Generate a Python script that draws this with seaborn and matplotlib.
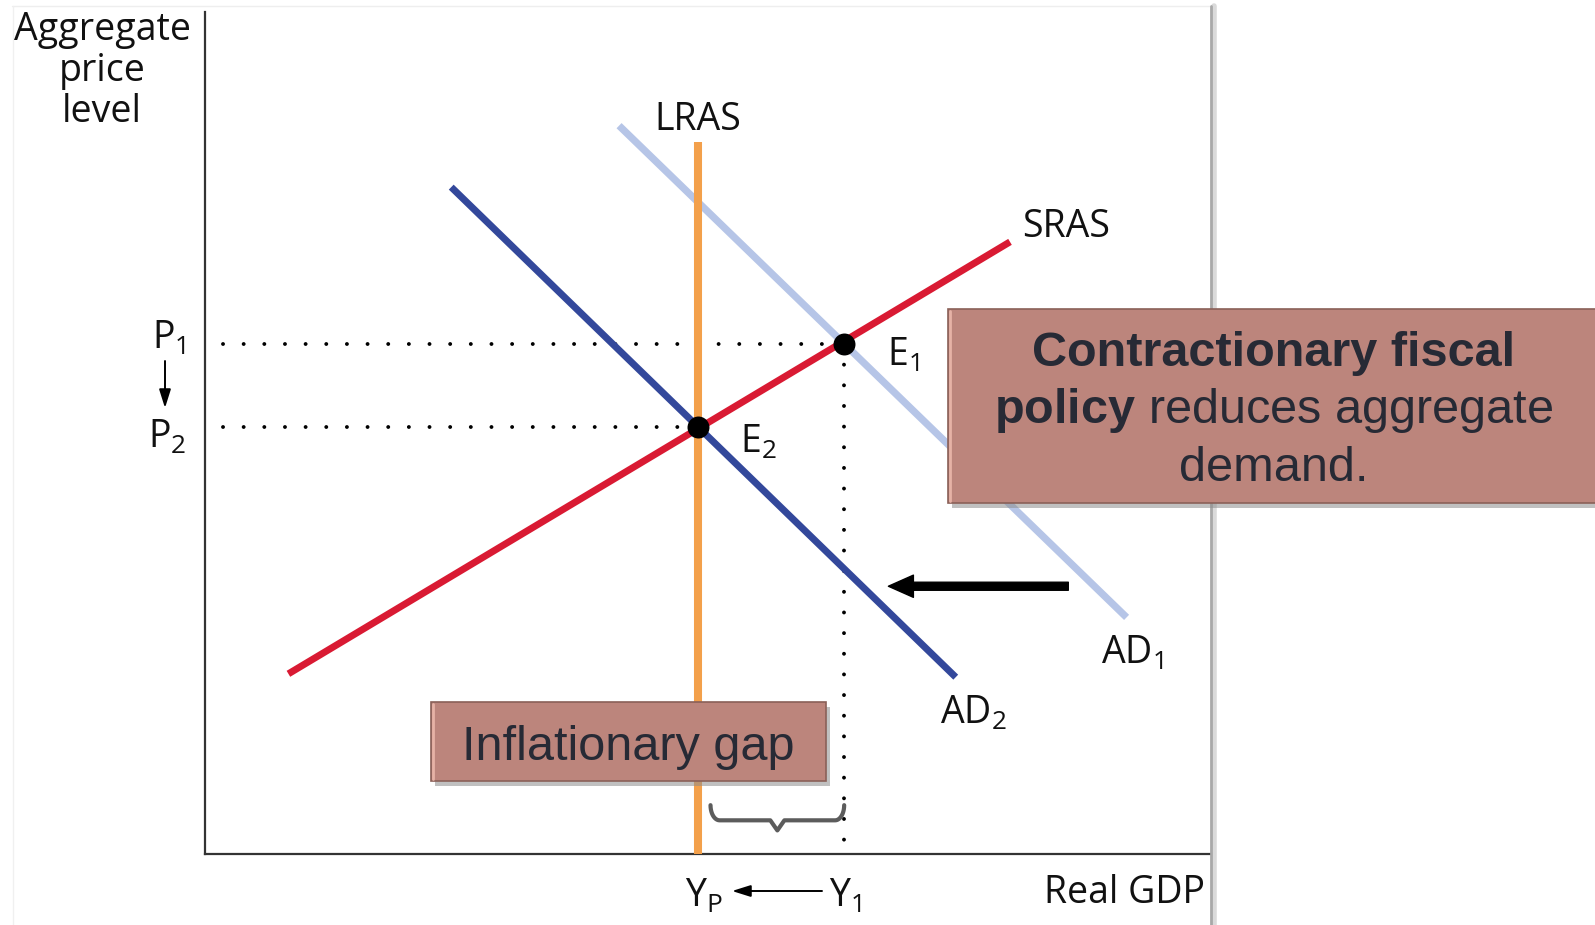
import numpy as np
import pandas as pd
import seaborn as sns
import matplotlib.pyplot as plt
from matplotlib.patches import Rectangle
from matplotlib.lines import Line2D

W, H = 1595, 925

# curve end points (x = real GDP, y = aggregate price level, arbitrary units 0-100)
sras_x = [8.3, 80.1]
sras_y = [21.4, 72.7]
ad1_x = [41.2, 91.7]
ad1_y = [86.5, 28.1]
ad2_x = [24.5, 74.7]
ad2_y = [79.2, 21.0]
lras_x = [49.1, 49.1]
lras_y = [0.0, 84.6]

# equilibria E1 (before) and E2 (after)
eq_x = [63.6, 49.1]
eq_y = [60.6, 50.7]

# leftward shift of AD
shift_from = 85.9
shift_to = 68.0
shift_y = 31.8

curves = {
    "AD1": (ad1_x, ad1_y, "#b6c5e7", 5.2),
    "LRAS": (lras_x, lras_y, "#f3a04b", 5.8),
    "AD2": (ad2_x, ad2_y, "#33489b", 5.0),
    "SRAS": (sras_x, sras_y, "#d91a33", 5.0),
}


def fx(px):
    return px / W


def fy(py):
    return 1 - py / H


def brace(x0, x1, ytop, ybot, ytip, r=0.9):
    t = np.linspace(0, np.pi / 2, 12)
    xm = (x0 + x1) / 2
    lx = x0 + r * (1 - np.cos(t))
    ly = ytop - (ytop - ybot) * np.sin(t)
    rx = x1 - r * (1 - np.cos(t))
    xs = np.concatenate([lx, [xm - 0.7, xm, xm + 0.7], rx[::-1]])
    ys = np.concatenate([ly, [ybot, ytip, ybot], ly[::-1]])
    return xs, ys


def main():
    sns.set_theme(style="white")
    plt.rcParams['font.family'] = ['Open Sans', 'DejaVu Sans']
    plt.rcParams['mathtext.fontset'] = 'custom'
    plt.rcParams['mathtext.rm'] = 'Liberation Sans'
    plt.rcParams['mathtext.bf'] = 'Liberation Sans:bold'

    fig = plt.figure(figsize=(W / 100, H / 100), dpi=100)
    fig.patch.set_facecolor("white")

    # faint picture frame + shadow on its right edge
    fig.add_artist(Line2D([fx(12), fx(1210)], [fy(6), fy(6)], color="#eeeeee", lw=1))
    fig.add_artist(Line2D([fx(13), fx(13)], [fy(6), 0], color="#f0f0f0", lw=1))
    fig.add_artist(Line2D([fx(1214), fx(1214)], [fy(6), 0], color="#dadada", lw=4))
    fig.add_artist(Line2D([fx(1211), fx(1211)], [fy(6), 0], color="#a8a8a8", lw=2))

    ax = fig.add_axes([fx(205), fy(854), (1210 - 205) / W, (854 - 12) / H])
    ax.set_xlim(0, 100)
    ax.set_ylim(0, 100)
    ax.set_xticks([])
    ax.set_yticks([])
    sns.despine(ax=ax)
    for s in ["left", "bottom"]:
        ax.spines[s].set_color("#333333")
        ax.spines[s].set_linewidth(1.6)

    # dotted guides
    dot = dict(color="black", lw=2.8, linestyle=(0, (0.01, 5.3)),
               dash_capstyle="round", zorder=1)
    ax.plot([1.8, eq_x[0]], [eq_y[0], eq_y[0]], **dot)
    ax.plot([1.8, eq_x[1]], [eq_y[1], eq_y[1]], **dot)
    ax.plot([eq_x[0], eq_x[0]], [eq_y[0], 0.2], **dot)

    for i, (name, (xs, ys, col, lw)) in enumerate(curves.items()):
        sns.lineplot(x=xs, y=ys, color=col, linewidth=lw, estimator=None,
                     sort=False, ax=ax, solid_capstyle="butt", zorder=2 + i)

    sns.scatterplot(x=eq_x, y=eq_y, color="black", s=250, linewidth=0,
                    ax=ax, zorder=10, legend=False)

    # AD shift arrow
    ax.annotate("", xy=(shift_to, shift_y), xytext=(shift_from, shift_y),
                arrowprops=dict(width=5.8, headwidth=16, headlength=18,
                                facecolor="black", edgecolor="black", shrink=0))

    # inflationary gap brace
    bx, by = brace(lras_x[0] + 1.2, eq_x[0], 5.8, 4.0, 2.8)
    ax.plot(bx, by, color="#5c5c5c", lw=3, solid_capstyle="round", zorder=3)

    lab = dict(fontsize=27, color="#111111", va="baseline")
    fig.text(fx(102), fy(40), "Aggregate", ha="center", **lab)
    fig.text(fx(102), fy(81), "price", ha="center", **lab)
    fig.text(fx(102), fy(122), "level", ha="center", **lab)
    fig.text(fx(698), fy(130), "LRAS", ha="center", **lab)
    fig.text(fx(1022), fy(237), "SRAS", ha="left", **lab)
    fig.text(fx(887), fy(366), r"$\mathregular{E_1}$", ha="left", **lab)
    fig.text(fx(740), fy(453), r"$\mathregular{E_2}$", ha="left", **lab)
    fig.text(fx(1101), fy(664), r"$\mathregular{AD_1}$", ha="left", **lab)
    fig.text(fx(940), fy(724), r"$\mathregular{AD_2}$", ha="left", **lab)
    fig.text(fx(186), fy(349), r"$\mathregular{P_1}$", ha="right", **lab)
    fig.text(fx(186), fy(448), r"$\mathregular{P_2}$", ha="right", **lab)
    fig.text(fx(704), fy(907), r"$\mathregular{Y_P}$", ha="center", **lab)
    fig.text(fx(845), fy(907), r"$\mathregular{Y_1}$", ha="center", **lab)
    fig.text(fx(1205), fy(903), "Real GDP", ha="right", **lab)

    thin = dict(arrowstyle="-|>,head_length=0.7,head_width=0.22", color="black",
                lw=1.4, mutation_scale=16, shrinkA=0, shrinkB=0)
    fig.add_artist(plt.matplotlib.patches.FancyArrowPatch(
        (fx(165), fy(361)), (fx(165), fy(408)), transform=fig.transFigure, **thin))
    fig.add_artist(plt.matplotlib.patches.FancyArrowPatch(
        (fx(822), fy(891)), (fx(732), fy(891)), transform=fig.transFigure, **thin))

    # text boxes
    def box(x0, y0, x1, y1):
        fig.add_artist(Rectangle((fx(x0 + 4), fy(y1 + 5)), (x1 - x0) / W, (y1 - y0) / H,
                                 transform=fig.transFigure, facecolor="#8d8d8d",
                                 alpha=0.55, edgecolor="none", zorder=20))
        fig.add_artist(Rectangle((fx(x0), fy(y1)), (x1 - x0) / W, (y1 - y0) / H,
                                 transform=fig.transFigure, facecolor="#bc857c",
                                 edgecolor="#8a6058", lw=1.2, zorder=21))
        fig.add_artist(Line2D([fx(x0 + 2), fx(x0 + 2)], [fy(y1 - 2), fy(y0 + 2)],
                              color="#e6b2a6", lw=2, zorder=22))

    box(431, 702, 826, 781)
    box(948, 309, 1620, 503)

    boxtxt = dict(fontsize=35, color="#272a35", family="Liberation Sans",
                  va="baseline", ha="center", zorder=30)
    fig.text(fx(628), fy(760), "Inflationary gap", **boxtxt)
    fig.text(fx(1274), fy(366), "Contractionary fiscal", fontweight="bold", **boxtxt)
    fig.text(fx(1274), fy(423), r"$\mathbf{policy}$ reduces aggregate", **boxtxt)
    fig.text(fx(1274), fy(481), "demand.", **boxtxt)

    fig.savefig("out.png", dpi=100)


if __name__ == "__main__":
    main()
